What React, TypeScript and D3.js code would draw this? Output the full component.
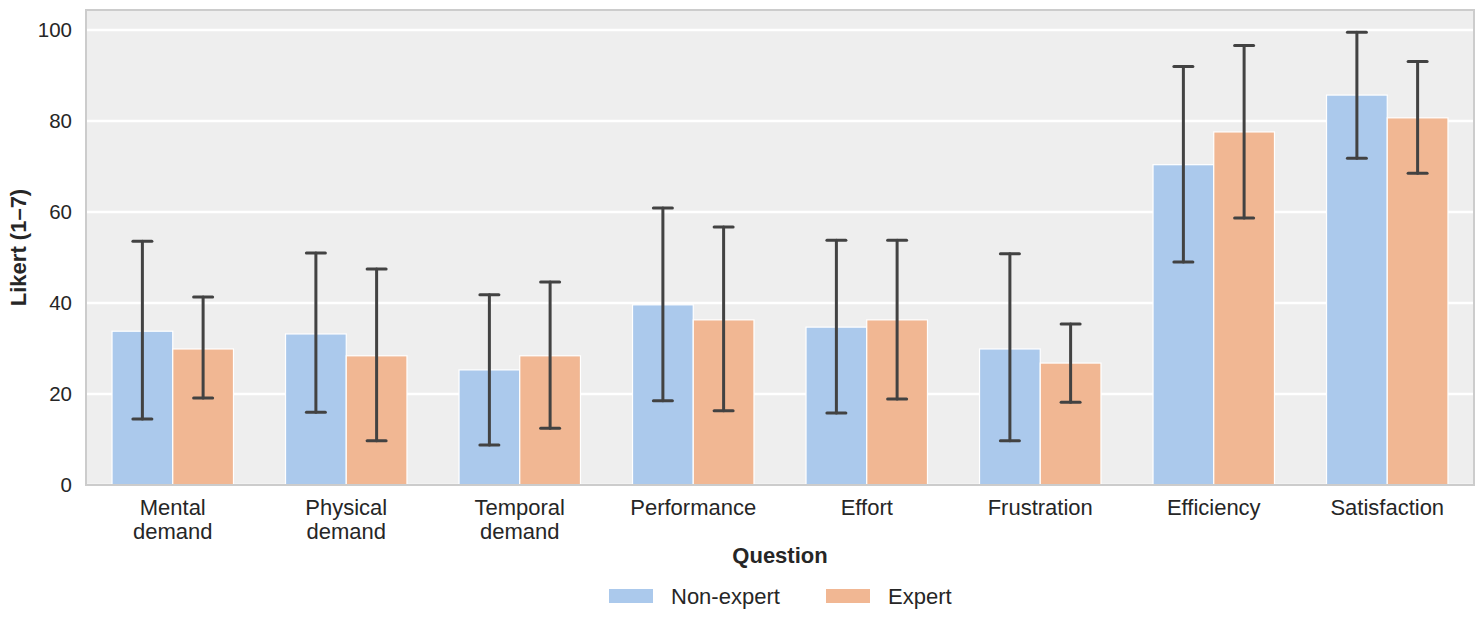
import React from "react";
import { scaleBand, scaleLinear } from "d3";

const questions = [
  "Mental\ndemand",
  "Physical\ndemand",
  "Temporal\ndemand",
  "Performance",
  "Effort",
  "Frustration",
  "Efficiency",
  "Satisfaction",
];
const groups = ["Non-expert", "Expert"];

const nonExpertMean = [33.8, 33.2, 25.3, 39.6, 34.7, 29.9, 70.4, 85.7];
const nonExpertLow = [14.5, 16.0, 8.8, 18.5, 15.8, 9.7, 49.0, 71.8];
const nonExpertHigh = [53.6, 51.0, 41.8, 60.9, 53.8, 50.8, 92.0, 99.5];

const expertMean = [29.9, 28.4, 28.4, 36.3, 36.3, 26.8, 77.6, 80.7];
const expertLow = [19.1, 9.7, 12.5, 16.3, 18.9, 18.2, 58.7, 68.5];
const expertHigh = [41.3, 47.5, 44.6, 56.7, 53.8, 35.4, 96.6, 93.1];

const yTicks = [0, 20, 40, 60, 80, 100];

const colors = ["#abc9ec", "#f1b793"];

const W = 1484;
const H = 626;
const margin = { left: 86, right: 10, top: 10, bottom: 141 };
const font = "'Liberation Sans', Arial, sans-serif";

export default function App() {
  const x = scaleBand<string>()
    .domain(questions)
    .range([margin.left, W - margin.right]);
  const y = scaleLinear()
    .domain([0, 104.4])
    .range([H - margin.bottom, margin.top]);

  // bars of a group fill 70% of the band
  const groupWidth = x.bandwidth() * 0.7;
  const sub = scaleBand<string>()
    .domain(groups)
    .range([(x.bandwidth() - groupWidth) / 2, (x.bandwidth() + groupWidth) / 2]);

  const series = [
    { mean: nonExpertMean, low: nonExpertLow, high: nonExpertHigh },
    { mean: expertMean, low: expertLow, high: expertHigh },
  ];

  const x0 = margin.left;
  const x1 = W - margin.right;
  const y0 = y(0);
  const capW = 19;

  return (
    <div style={{ position: "absolute", left: 0, top: 0 }}>
      <svg width={W} height={H} style={{ display: "block", fontFamily: font }}>
        <rect x={0} y={0} width={W} height={H} fill="#ffffff" />
        <rect x={x0} y={margin.top} width={x1 - x0} height={y0 - margin.top} fill="#eeeeee" />
        {yTicks.map((t) => (
          <g key={t}>
            <line x1={x0} x2={x1} y1={y(t)} y2={y(t)} stroke="#ffffff" strokeWidth={2.5} />
            <text x={72} y={y(t)} dy="0.35em" textAnchor="end" fontSize={20.5} fill="#262626">
              {t}
            </text>
          </g>
        ))}
        {series.map((s, gi) =>
          questions.map((q, i) => {
            const bx = (x(q) ?? 0) + (sub(groups[gi]) ?? 0);
            return (
              <rect
                key={`${gi}-${i}`}
                x={bx}
                y={y(s.mean[i])}
                width={sub.bandwidth()}
                height={y0 - y(s.mean[i])}
                fill={colors[gi]}
                stroke="#ffffff"
                strokeWidth={1.2}
              />
            );
          })
        )}
        {series.map((s, gi) =>
          questions.map((q, i) => {
            const cx = (x(q) ?? 0) + (sub(groups[gi]) ?? 0) + sub.bandwidth() / 2;
            return (
              <g key={`e${gi}-${i}`} stroke="#424242" strokeWidth={3} strokeLinecap="round">
                <line x1={cx} x2={cx} y1={y(s.low[i])} y2={y(s.high[i])} />
                <line x1={cx - capW / 2} x2={cx + capW / 2} y1={y(s.low[i])} y2={y(s.low[i])} />
                <line x1={cx - capW / 2} x2={cx + capW / 2} y1={y(s.high[i])} y2={y(s.high[i])} />
              </g>
            );
          })
        )}
        <rect
          x={x0}
          y={margin.top}
          width={x1 - x0}
          height={y0 - margin.top}
          fill="none"
          stroke="#cccccc"
          strokeWidth={2}
        />
        {questions.map((q) => {
          const cx = (x(q) ?? 0) + x.bandwidth() / 2;
          return (
            <text key={q} x={cx} y={515} textAnchor="middle" fontSize={22} fill="#262626">
              {q.split("\n").map((line, li) => (
                <tspan key={li} x={cx} dy={li === 0 ? 0 : 23.5}>
                  {line}
                </tspan>
              ))}
            </text>
          );
        })}
        <text x={(x0 + x1) / 2} y={563} textAnchor="middle" fontSize={22} fontWeight="bold" fill="#262626">
          Question
        </text>
        <text
          transform={`translate(26,${(margin.top + y0) / 2}) rotate(-90)`}
          textAnchor="middle"
          fontSize={22}
          fontWeight="bold"
          fill="#262626"
        >
          Likert (1–7)
        </text>
        {groups.map((g, gi) => {
          const lx = gi === 0 ? 609 : 826;
          return (
            <g key={g}>
              <rect x={lx} y={589} width={44} height={14} fill={colors[gi]} />
              <text x={lx + 62} y={596} dy="0.35em" fontSize={22} fill="#262626">
                {g}
              </text>
            </g>
          );
        })}
      </svg>
    </div>
  );
}
